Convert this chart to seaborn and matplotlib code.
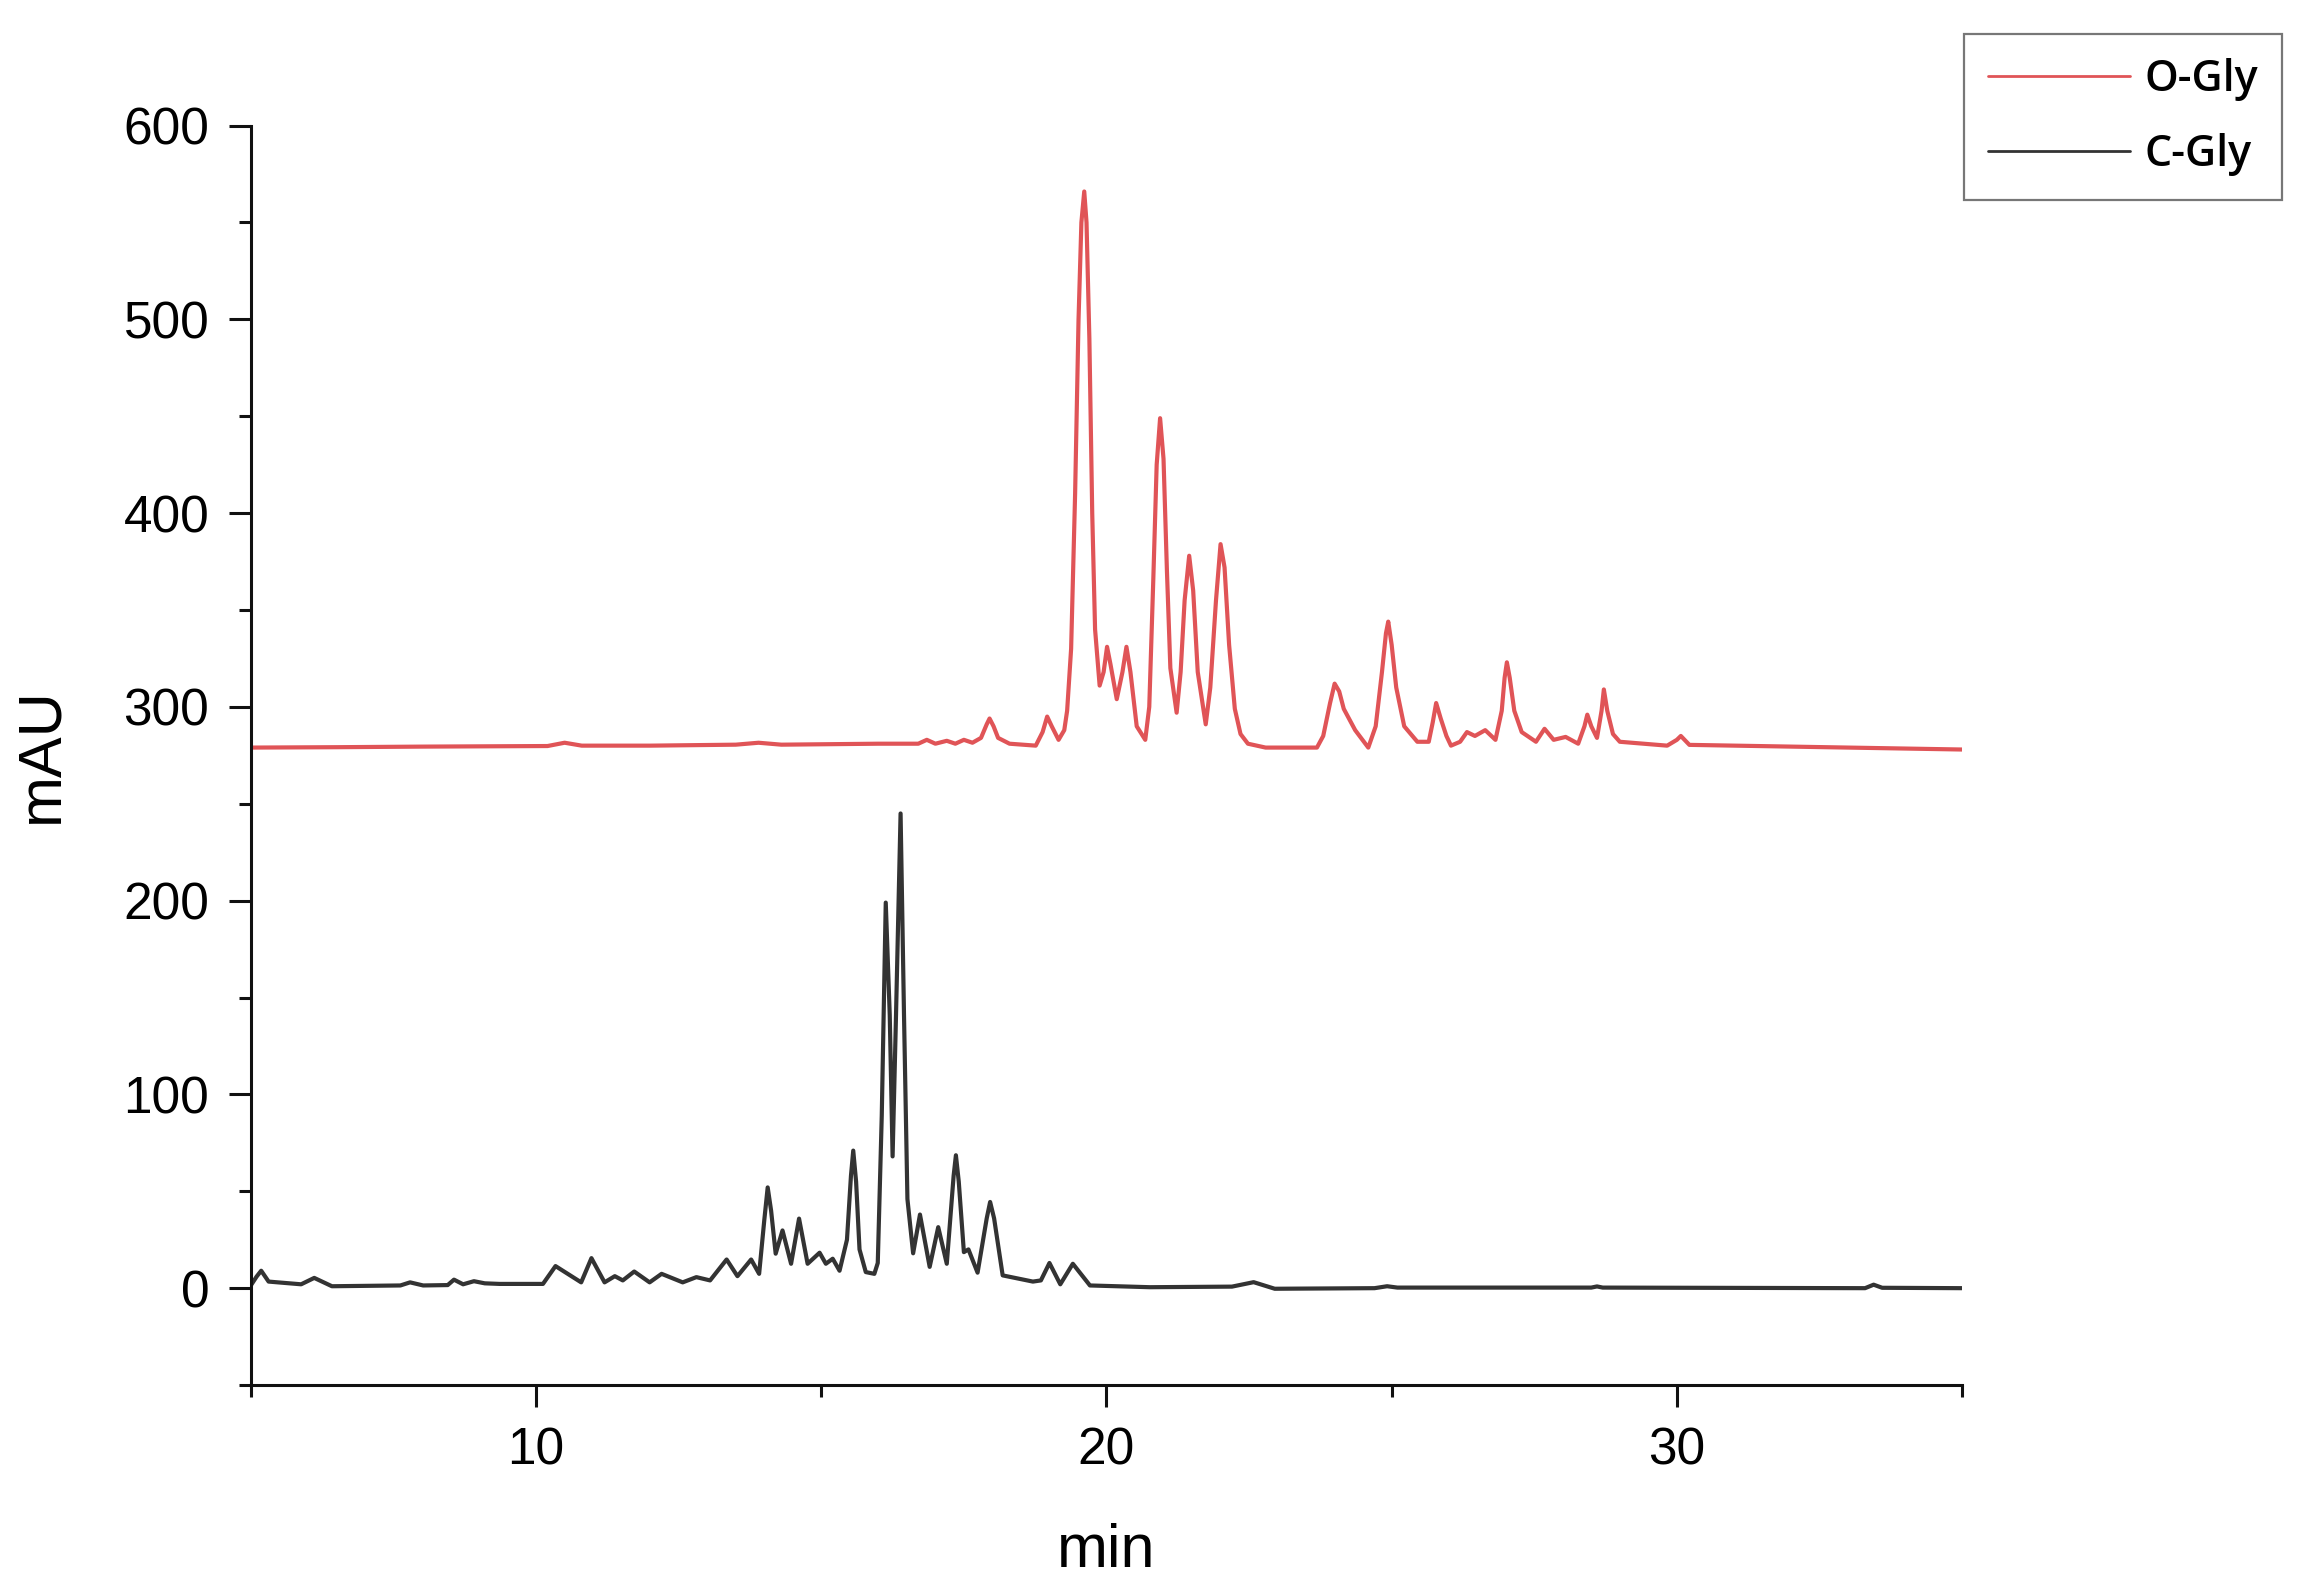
import pandas as pd
import matplotlib.pyplot as plt
import matplotlib.ticker as mticker
import seaborn as sns

# O-Gly trace (min, mAU)
o_gly_min = [5.0, 6.5, 8.0, 10.2, 10.5, 10.8, 12.0, 13.5, 13.9, 14.3, 16.0, 16.7,
             16.85, 17.0, 17.2, 17.35, 17.5, 17.65, 17.8, 17.9, 17.95, 18.02, 18.1,
             18.3, 18.76, 18.88, 18.96, 19.04, 19.16, 19.26, 19.31, 19.38, 19.45,
             19.51, 19.56, 19.61, 19.65, 19.7, 19.75, 19.8, 19.88, 19.95, 20.01,
             20.07, 20.18, 20.28, 20.35, 20.42, 20.53, 20.68, 20.75, 20.82, 20.88,
             20.94, 21.0, 21.06, 21.12, 21.23, 21.3, 21.37, 21.45, 21.52, 21.6,
             21.74, 21.82, 21.92, 22.0, 22.07, 22.15, 22.25, 22.35, 22.48, 22.79,
             23.69, 23.8, 23.92, 24.0, 24.08, 24.16, 24.36, 24.59, 24.72, 24.83,
             24.9, 24.94, 25.0, 25.08, 25.22, 25.45, 25.65, 25.72, 25.78, 25.86,
             25.96, 26.04, 26.2, 26.32, 26.46, 26.64, 26.82, 26.93, 26.98, 27.02,
             27.07, 27.15, 27.28, 27.53, 27.68, 27.84, 28.05, 28.27, 28.38, 28.43,
             28.5, 28.6, 28.68, 28.72, 28.78, 28.88, 29.0, 29.83, 30.0, 30.07,
             30.22, 31.0, 32.0, 33.0, 35.0]
o_gly_mau = [279.0, 279.2, 279.5, 279.8, 281.5, 280.0, 280.0, 280.5, 281.5, 280.5,
             281.0, 281.0, 283.0, 281.0, 282.5, 281.0, 283.0, 281.5, 284.0, 291.0,
             294.0, 290.0, 284.0, 281.0, 280.0, 287.0, 295.0, 290.0, 283.0, 288.0,
             298.0, 330.0, 410.0, 500.0, 550.0, 566.0, 550.0, 490.0, 400.0, 340.0,
             311.0, 318.0, 331.0, 322.0, 304.0, 318.0, 331.0, 318.0, 290.0, 283.0,
             300.0, 365.0, 425.0, 449.0, 428.0, 370.0, 320.0, 297.0, 318.0, 355.0,
             378.0, 360.0, 318.0, 291.0, 310.0, 355.0, 384.0, 372.0, 332.0, 299.0,
             286.0, 281.0, 279.0, 279.0, 285.0, 302.0, 312.0, 308.0, 299.0, 288.0,
             279.0, 290.0, 318.0, 338.0, 344.0, 332.0, 310.0, 290.0, 282.0, 282.0,
             292.0, 302.0, 294.0, 285.0, 280.0, 282.0, 287.0, 285.0, 288.0, 283.0,
             298.0, 315.0, 323.0, 315.0, 298.0, 287.0, 282.0, 288.7, 283.0, 284.5,
             281.0, 290.0, 296.0, 290.0, 284.0, 298.0, 309.0, 298.0, 286.0, 282.0,
             280.0, 283.0, 285.0, 280.4, 280.0, 279.5, 279.0, 278.0]

# C-Gly trace (min, mAU)
c_gly_min = [5.0, 5.1, 5.18, 5.31, 5.88, 6.11, 6.42, 7.62, 7.79, 8.02, 8.45, 8.56,
             8.72, 8.91, 9.1, 9.36, 10.12, 10.34, 10.79, 10.97, 11.2, 11.38, 11.52,
             11.72, 11.99, 12.2, 12.57, 12.81, 13.05, 13.34, 13.53, 13.77, 13.91,
             14.0, 14.06, 14.12, 14.2, 14.32, 14.47, 14.61, 14.76, 14.97, 15.08,
             15.2, 15.32, 15.45, 15.52, 15.56, 15.61, 15.67, 15.78, 15.93, 15.99,
             16.06, 16.13, 16.2, 16.25, 16.31, 16.39, 16.45, 16.51, 16.61, 16.73,
             16.9, 17.05, 17.2, 17.32, 17.36, 17.41, 17.5, 17.58, 17.74, 17.9,
             17.96, 18.03, 18.18, 18.71, 18.85, 19.0, 19.19, 19.41, 19.71, 20.76,
             22.2, 22.58, 22.95, 24.7, 24.92, 25.1, 28.5, 28.6, 28.7, 33.3, 33.45,
             33.6, 35.0]
c_gly_mau = [1.5, 6.0, 9.0, 3.4, 2.0, 5.3, 1.0, 1.4, 3.0, 1.4, 1.6, 4.4, 2.0, 3.6,
             2.5, 2.2, 2.2, 11.4, 3.0, 15.5, 3.0, 6.2, 4.0, 8.6, 3.0, 7.4, 3.0, 5.7,
             4.0, 14.8, 6.2, 14.8, 7.4, 35.0, 52.0, 40.0, 17.8, 29.8, 12.6, 35.9,
             12.6, 18.3, 12.6, 15.2, 9.0, 25.0, 58.0, 71.0, 55.0, 20.0, 8.3, 7.4,
             13.0, 89.0, 199.0, 141.0, 68.0, 141.0, 245.0, 141.0, 46.0, 18.0, 38.0,
             11.0, 31.5, 12.6, 58.0, 68.6, 55.0, 18.6, 20.0, 8.0, 36.0, 44.5, 36.0,
             6.6, 3.4, 4.0, 13.0, 2.0, 12.6, 1.4, 0.5, 0.8, 3.1, -0.3, 0.0, 1.0, 0.3,
             0.3, 0.9, 0.3, 0.0, 1.8, 0.2, 0.0]

samples = ["O-Gly", "C-Gly"]
colors = {"O-Gly": "#e05457", "C-Gly": "#333333"}

df = pd.concat([
    pd.DataFrame({"min": o_gly_min, "mAU": o_gly_mau, "sample": samples[0]}),
    pd.DataFrame({"min": c_gly_min, "mAU": c_gly_mau, "sample": samples[1]}),
])

sns.set_style("ticks")
plt.rcParams["font.family"] = ["Liberation Sans", "DejaVu Sans"]
plt.rcParams["text.color"] = "black"
plt.rcParams["axes.labelcolor"] = "black"
plt.rcParams["xtick.color"] = "black"
plt.rcParams["ytick.color"] = "black"

fig = plt.figure(figsize=(23.17, 15.86), dpi=100)
ax = fig.add_axes([0.1083, 0.1267, 0.7385, 0.7941])

sns.lineplot(data=df, x="min", y="mAU", hue="sample", hue_order=samples,
             palette=colors, sort=False, estimator=None, linewidth=3.0, ax=ax)

ax.set_xlim(5, 35)
ax.set_ylim(-50, 600)
ax.xaxis.set_major_locator(mticker.MultipleLocator(10))
ax.xaxis.set_minor_locator(mticker.MultipleLocator(5))
ax.yaxis.set_major_locator(mticker.MultipleLocator(100))
ax.yaxis.set_minor_locator(mticker.MultipleLocator(50))
ax.tick_params(which="major", length=16, width=2.2, labelsize=37, pad=14, color="#111111")
ax.tick_params(which="minor", length=8.5, width=2.2, color="#111111")
for side in ["top", "right"]:
    ax.spines[side].set_visible(False)
for side in ["left", "bottom"]:
    ax.spines[side].set_linewidth(2.2)
    ax.spines[side].set_color("#111111")

ax.set_xlabel("min", fontsize=44, labelpad=34)
ax.set_ylabel("mAU", fontsize=44, labelpad=38)

sns.move_legend(ax, "upper right", bbox_to_anchor=(2282 / 2317, 1 - 34 / 1586),
                bbox_transform=fig.transFigure, title=None, frameon=True,
                handlelength=3.3, handletextpad=0.35, labelspacing=0.75,
                borderpad=0.55, borderaxespad=0, fancybox=False,
                prop={"family": ["Open Sans", "DejaVu Sans"], "weight": "semibold", "size": 31})
leg = ax.get_legend()
leg.get_frame().set_edgecolor("#555555")
leg.get_frame().set_linewidth(1.6)
for line in leg.get_lines():
    line.set_linewidth(2.0)

fig.savefig("out.png", dpi=100)
